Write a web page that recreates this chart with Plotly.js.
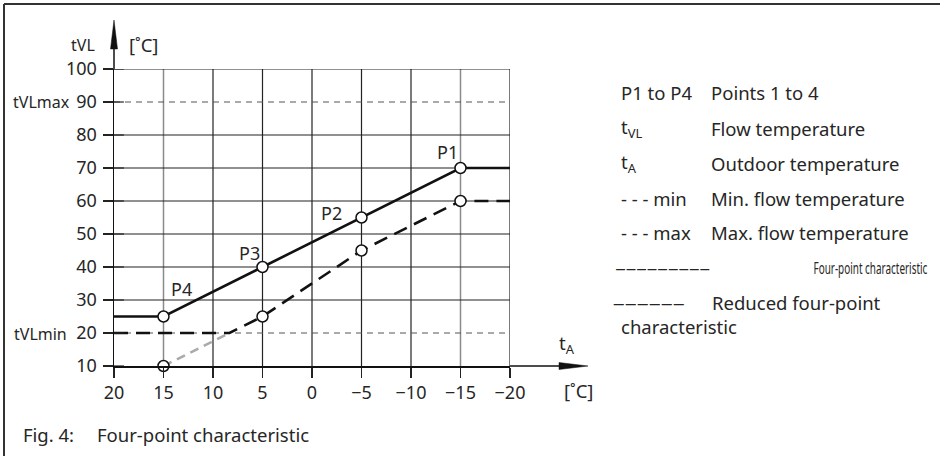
<!DOCTYPE html>
<html>
<head>
<meta charset="utf-8">
<script src="https://cdn.plot.ly/plotly-3.0.1.min.js"></script>
<style>html,body{margin:0;padding:0;background:#fff;}#chart{width:940px;height:456px;}</style>
</head>
<body>
<div id="chart"></div>
<script>
// ---- data ----
const xTicks = [20, 15, 10, 5, 0, -5, -10, -15, -20];
const xTickText = ["20", "15", "10", "5", "0", "\u22125", "\u221210", "\u221215", "\u221220"];
const yTicks = [10, 20, 30, 40, 50, 60, 70, 80, 90, 100];
const yTickText = ["10", "20", "30", "40", "50", "60", "70", "80", "90", "100"];

// four-point characteristic (solid)
const fourX = [20, 15, 5, -5, -15, -20];
const fourY = [25, 25, 40, 55, 70, 70];
// reduced four-point characteristic (dashed), limited by tVLmin
const reducedX = [20, 8.33, 5, -5, -15, -20];
const reducedY = [20, 20, 25, 45, 60, 60];
// reduced characteristic below tVLmin (grey dashed)
const belowMinX = [15, 8.33];
const belowMinY = [10, 20];
// points
const pointX = [-15, -5, 5, 15, -15, -5, 5, 15];
const pointY = [70, 55, 40, 25, 60, 45, 25, 10];
const pointNames = ["P1", "P2", "P3", "P4"];
const pointLabelX = [-13.7, -2.0, 6.3, 13.2];
const pointLabelY = [74.9, 56.4, 44.2, 33.2];

const tVLmin = 20, tVLmax = 90;
const gridXBlack = [10, 5, 0, -5, -10, -20];
const gridXGrey = [15, -15];
const gridYSolid = [30, 40, 50, 60, 70, 80, 100];
const gridYDashed = [tVLmin, tVLmax];

const legendKeys = ["P1 to P4", "t<sub>VL</sub>", "t<sub>A</sub>", "- - - min", "- - - max"];
const legendTexts = ["Points 1 to 4", "Flow temperature", "Outdoor temperature", "Min. flow temperature", "Max. flow temperature"];
const solidKey = "\u2013\u2013\u2013\u2013\u2013\u2013\u2013\u2013\u2013";
const dashedKey = "\u2013\u2013\u2013\u2013\u2013\u2013";

// ---- helpers: pixel -> paper ----
const L = 114, R = 510, T = 69, B = 366;
const px = x => (x - L) / (R - L);
const py = y => (B - y) / (B - T);

const FONT = "Noto Sans, Open Sans, sans-serif";
const TXT = "#262626";

const traces = [
  {x: belowMinX, y: belowMinY, mode: "lines", line: {color: "#aaaaaa", width: 2.5, dash: "9px,6px"}, hoverinfo: "skip", cliponaxis: false},
  {x: reducedX, y: reducedY, mode: "lines", line: {color: "#111", width: 2.6, dash: "14px,8px"}, hoverinfo: "skip", cliponaxis: false},
  {x: fourX, y: fourY, mode: "lines", line: {color: "#111", width: 2.6}, hoverinfo: "skip", cliponaxis: false},
  {x: pointX, y: pointY, mode: "markers", marker: {size: 11, color: "#fff", line: {color: "#111", width: 1.5}}, hoverinfo: "skip", cliponaxis: false}
];

const shapes = [];
gridXBlack.forEach(v => shapes.push({type: "line", xref: "x", yref: "y", x0: v, x1: v, y0: 10, y1: 100, line: {color: "#222", width: 1.2}, layer: "below"}));
gridXGrey.forEach(v => shapes.push({type: "line", xref: "x", yref: "y", x0: v, x1: v, y0: 10, y1: 100, line: {color: "#8a8a8a", width: 1.5}, layer: "below"}));
gridYSolid.forEach(v => shapes.push({type: "line", xref: "x", yref: "y", x0: 20, x1: -20, y0: v, y1: v, line: {color: "#222", width: 1.2}, layer: "below"}));
gridYDashed.forEach(v => shapes.push({type: "line", xref: "x", yref: "y", x0: 20, x1: -20, y0: v, y1: v, line: {color: "#555", width: 1, dash: "6px,5px"}, layer: "below"}));
yTicks.forEach(v => shapes.push({type: "line", xref: "x", yref: "y", x0: 20, x1: 19, y0: v, y1: v, line: {color: "#222", width: 1.2}}));
shapes.push({type: "line", xref: "paper", yref: "paper", x0: 0, x1: 0, y0: 1, y1: py(46), line: {color: "#111", width: 1.5}});
shapes.push({type: "path", xref: "paper", yref: "paper",
  path: `M ${px(114)} ${py(20)} L ${px(110.5)} ${py(49)} L ${px(117.5)} ${py(49)} Z`, fillcolor: "#111", line: {color: "#111", width: 0.5}});
shapes.push({type: "line", xref: "paper", yref: "paper", x0: 1, x1: px(562), y0: 0, y1: 0, line: {color: "#111", width: 1.5}});
shapes.push({type: "path", xref: "paper", yref: "paper",
  path: `M ${px(588)} ${py(366)} L ${px(559)} ${py(362.5)} L ${px(559)} ${py(369.5)} Z`, fillcolor: "#111", line: {color: "#111", width: 0.5}});
shapes.push({type: "line", xref: "paper", yref: "paper", x0: px(4), x1: px(940), y0: py(4), y1: py(4), line: {color: "#333", width: 2}});
shapes.push({type: "line", xref: "paper", yref: "paper", x0: px(4), x1: px(4), y0: py(4), y1: py(456), line: {color: "#333", width: 2}});

const annotations = [];
const ann = (text, x, y, xanchor, size, extra) => Object.assign({
  text, xref: "paper", yref: "paper", x: px(x), y: py(y), xanchor, yanchor: "middle",
  showarrow: false, font: {family: FONT, size: size || 18.5, color: TXT}, borderpad: 0
}, extra || {});

pointNames.forEach((n, i) => annotations.push({text: n, x: pointLabelX[i], y: pointLabelY[i], xref: "x", yref: "y",
  showarrow: false, font: {family: FONT, size: 18, color: TXT}}));

annotations.push(ann("tVL", 96, 45, "right", 16));
annotations.push(ann("[\u02daC]", 128, 45, "left", 18.5));
annotations.push(ann("tVLmax", 71, 102, "right", 16));
annotations.push(ann("tVLmin", 68, 334, "right", 16));
annotations.push(ann("t<sub>A</sub>", 558, 344, "left", 18.5));
annotations.push(ann("[\u02daC]", 563, 390, "left", 18.5));

const rowY = [93, 128, 163, 198, 232];
legendKeys.forEach((k, i) => {
  annotations.push(ann(k, 620, rowY[i], "left"));
  annotations.push(ann(legendTexts[i], 710, rowY[i], "left"));
});
annotations.push(ann(solidKey, 620, 267, "left"));
annotations.push(ann("Four-point characteristic", 870, 267, "center", 17));
annotations.push(ann(dashedKey, 620, 302, "left"));
annotations.push(ann("Reduced four-point", 711, 302, "left"));
annotations.push(ann("characteristic", 620, 326, "left"));
annotations.push(ann("Fig. 4:", 22, 434, "left"));
annotations.push(ann("Four-point characteristic", 96, 434, "left"));

const axisCommon = {
  ticks: "outside", ticklen: 10, tickwidth: 1.2, tickcolor: "#222",
  showline: true, linecolor: "#111", linewidth: 1.5, showgrid: false, zeroline: false,
  tickfont: {family: FONT, size: 18, color: TXT}, fixedrange: true
};

const layout = {
  width: 940, height: 456,
  margin: {l: L, r: 940 - R, t: T, b: 456 - B},
  paper_bgcolor: "#fff", plot_bgcolor: "#fff",
  showlegend: false,
  xaxis: Object.assign({}, axisCommon, {range: [20, -20], tickmode: "array", tickvals: xTicks, ticktext: xTickText}),
  yaxis: Object.assign({}, axisCommon, {range: [10, 100], tickmode: "array", tickvals: yTicks, ticktext: yTickText, ticklabelstandoff: 2}),
  shapes, annotations
};

function squeeze(t, len) {
  const bb = t.getBBox();
  if (!bb.width) return;
  const s = len / bb.width;
  const cx = bb.x + bb.width / 2;
  const prev = t.getAttribute("transform") || "";
  t.setAttribute("transform", `${prev} translate(${cx},0) scale(${s},1) translate(${-cx},0)`);
}

Plotly.newPlot("chart", traces, layout, {staticPlot: true, displayModeBar: false}).then(() => {
  document.querySelectorAll(".annotation-text").forEach(t => {
    const a = t.closest(".annotation");
    const left = a ? a.getBoundingClientRect().left : 0;
    if (t.textContent === "Four-point characteristic" && left > 600) squeeze(t, 114);
    else if (t.textContent === solidKey) squeeze(t, 95);
    else if (t.textContent === dashedKey) squeeze(t, 72);
  });
});
</script>
</body>
</html>
